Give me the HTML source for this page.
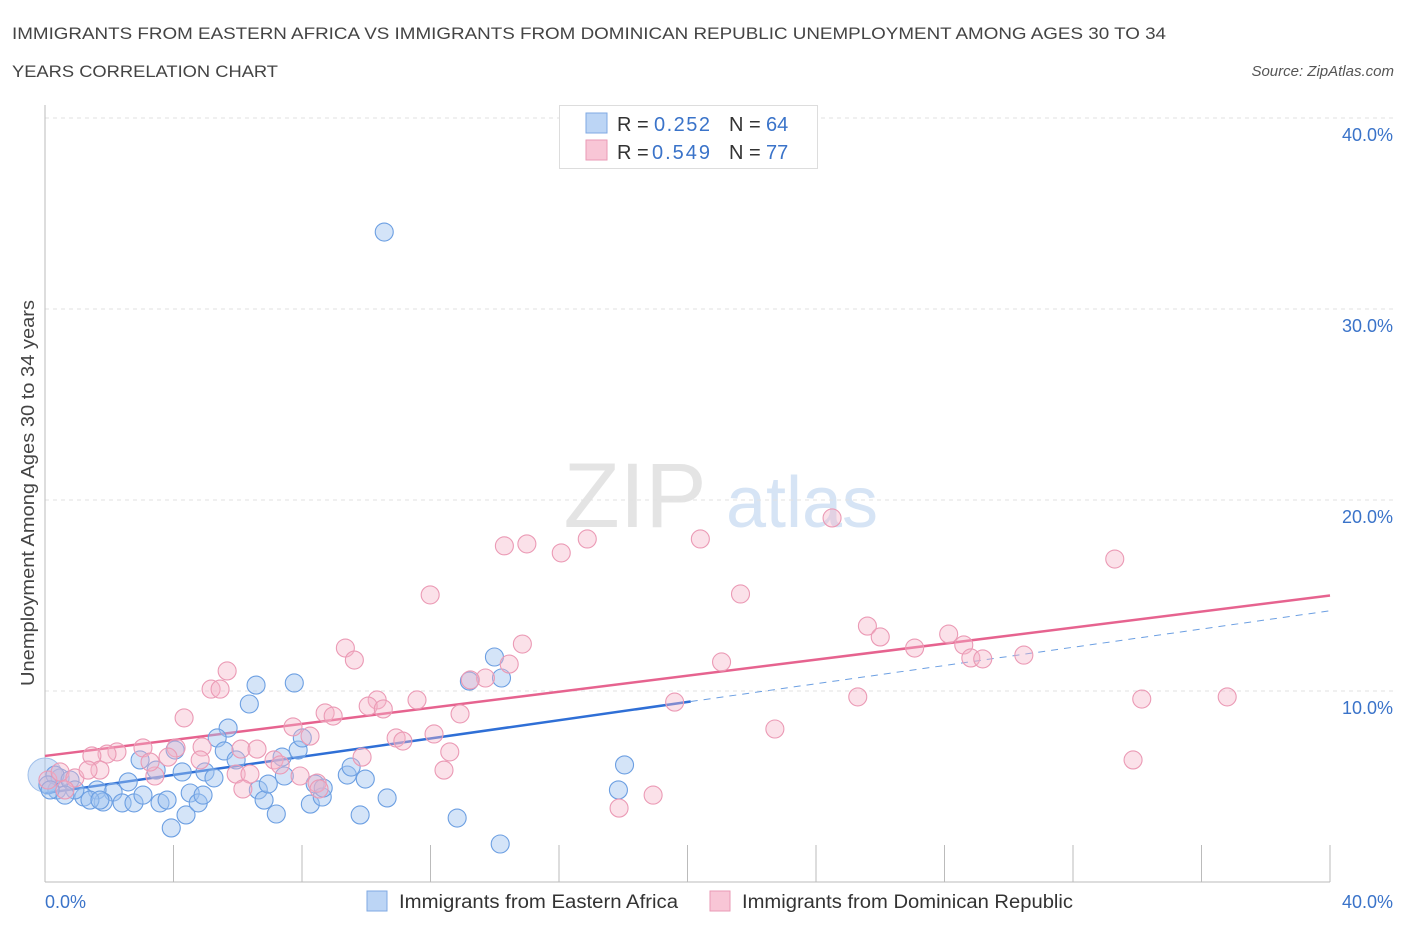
<!DOCTYPE html>
<html><head><meta charset="utf-8"><style>
body{margin:0;background:#fff;font-family:"Liberation Sans",sans-serif;}
svg text{font-family:"Liberation Sans",sans-serif;}
</style></head><body>
<svg id="chart" width="1406" height="930" viewBox="0 0 1406 930">
<text x="12" y="39" font-size="17" fill="#444" textLength="1154" lengthAdjust="spacingAndGlyphs">IMMIGRANTS FROM EASTERN AFRICA VS IMMIGRANTS FROM DOMINICAN REPUBLIC UNEMPLOYMENT AMONG AGES 30 TO 34</text>
<text x="12" y="77" font-size="17" fill="#444" textLength="266" lengthAdjust="spacingAndGlyphs">YEARS CORRELATION CHART</text>
<text x="1394" y="76" font-size="15" fill="#555" font-style="italic" text-anchor="end">Source: ZipAtlas.com</text>
<text transform="translate(34,493) rotate(-90)" font-size="18" fill="#444" text-anchor="middle" textLength="386" lengthAdjust="spacingAndGlyphs">Unemployment Among Ages 30 to 34 years</text>
<g>
<text x="635" y="527" font-size="92" fill="#e4e4e4" font-family="Liberation Serif,serif" text-anchor="middle">ZIP</text>
<text x="802" y="527" font-size="72" fill="#d6e4f5" text-anchor="middle">atlas</text>
</g>
<g id="grid"></g><g id="axes"></g><g id="lines"></g><g id="points"></g>
<g>
<rect x="559.5" y="105.5" width="258" height="63" fill="#fff" stroke="#ddd"/>
<rect x="586" y="113" width="21" height="20" fill="#bcd5f5" stroke="#7fa9e3"/>
<rect x="586" y="140" width="21" height="20" fill="#f8c6d6" stroke="#ea9ab5"/>
<text x="617" y="131" font-size="20" fill="#333">R = </text><text x="654" y="131" font-size="20" fill="#3a73c9" textLength="56">0.252</text>
<text x="729" y="131" font-size="20" fill="#333">N = </text><text x="766" y="131" font-size="20" fill="#3a73c9">64</text>
<text x="617" y="159" font-size="20" fill="#333">R = </text><text x="652" y="159" font-size="20" fill="#3a73c9" textLength="58">0.549</text>
<text x="729" y="159" font-size="20" fill="#333">N = </text><text x="766" y="159" font-size="20" fill="#3a73c9">77</text>
</g>
<g>
<rect x="367" y="891" width="20" height="20" fill="#bcd5f5" stroke="#7fa9e3"/>
<text x="399" y="908" font-size="19" fill="#333" textLength="279" lengthAdjust="spacingAndGlyphs">Immigrants from Eastern Africa</text>
<rect x="710" y="891" width="20" height="20" fill="#f8c6d6" stroke="#ea9ab5"/>
<text x="742" y="908" font-size="19" fill="#333" textLength="331" lengthAdjust="spacingAndGlyphs">Immigrants from Dominican Republic</text>
</g>
</svg>
<script>
const yTicks=[10,20,30,40];
const yTickLabels=["10.0%","20.0%","30.0%","40.0%"];
const xTickLabels=["0.0%","40.0%"];
const blueX=[10.56,6.57,7.76,6.36,5.70,5.36,5.58,4.98,4.27,5.26,4.05,3.46,2.59,2.12,1.62,1.21,1.81,2.40,2.77,3.05,3.58,3.80,3.93,4.39,4.52,4.77,4.92,5.95,6.64,6.82,6.95,7.20,7.45,7.38,7.88,8.01,8.26,8.41,8.63,8.66,9.41,9.53,9.97,9.81,10.65,12.83,13.99,13.21,14.21,14.17,18.04,17.85,0.37,0.47,0.31,0.09,0.78,0.93,1.40,2.96,1.71,0.62,0.16];
const blueY=[34.03,10.31,10.42,9.32,8.06,7.54,6.86,5.76,5.76,5.45,6.91,5.86,5.24,4.71,4.82,4.45,4.19,4.14,4.14,4.55,4.14,4.29,2.83,3.51,4.66,4.14,4.55,6.39,4.82,4.29,5.13,3.56,5.55,6.54,6.91,7.54,4.08,5.13,4.45,4.92,5.60,6.02,5.39,3.51,4.40,3.35,11.78,10.52,10.68,1.99,6.13,4.82,4.82,5.45,5.60,5.08,5.34,4.82,4.29,6.39,4.29,4.55,4.82];
const pinkX=[24.5,20.4,33.3,16.88,15.0,14.3,16.07,11.99,21.65,25.6,26.0,28.13,28.6,27.07,28.82,29.19,30.47,14.86,14.45,21.06,9.35,9.63,13.71,13.24,5.67,5.17,5.45,4.33,25.3,19.6,34.14,36.8,10.34,10.06,10.53,11.58,8.72,8.97,12.92,7.72,8.25,12.11,10.93,11.14,22.72,12.6,9.87,12.42,4.89,4.08,3.05,2.24,1.93,1.46,1.71,3.42,6.1,6.6,7.13,7.32,5.95,6.38,6.16,7.94,8.47,8.53,33.87,17.87,18.93,0.09,0.47,0.93,0.62,1.34,3.27,3.83,4.83];
const pinkY=[19.06,17.96,16.91,17.96,17.7,17.6,17.23,15.03,15.08,13.4,12.83,12.98,12.41,12.25,11.73,11.68,11.88,12.46,11.41,11.52,12.25,11.62,10.68,10.58,11.05,10.1,10.1,8.59,9.69,9.42,9.58,9.69,9.53,9.21,9.06,9.53,8.85,8.69,8.80,8.12,7.64,7.75,7.54,7.38,8.01,6.81,6.54,5.86,7.07,7.02,7.02,6.81,6.70,6.6,5.86,5.55,6.96,6.96,6.39,6.13,5.65,5.65,4.87,5.55,5.18,4.87,6.39,3.87,4.55,5.34,5.76,5.45,4.82,5.86,6.28,6.54,6.39];
const pinkLine=[6.6,15.0];
const blueLine=[4.65,14.2];
const blueSolidEnd=20.1;

const NS="http://www.w3.org/2000/svg";
const X0=45,X1=1330,Y0=882,Y1=118;
const sx=v=>X0+(v/40)*(X1-X0);
const sy=v=>Y0-(v/40)*(Y0-Y1);
function mk(tag,attrs,parent){const e=document.createElementNS(NS,tag);for(const k in attrs)e.setAttribute(k,attrs[k]);document.getElementById(parent).appendChild(e);return e;}

yTicks.forEach((t,i)=>{
  const g=mk('line',{x1:X0,x2:1395,y1:sy(t),y2:sy(t),stroke:'#e2e2e2','stroke-dasharray':'4,4'},'grid');
  
  
  const l=mk('text',{x:1393,y:sy(t)+23,'font-size':18,fill:'#3a73c9','text-anchor':'end'},'axes');
  l.textContent=yTickLabels[i];
  
  
});
const ya=mk('line',{x1:X0,x2:X0,y1:105,y2:Y0,stroke:'#bbb'},'axes');


const xa=mk('line',{x1:X0,x2:X1,y1:Y0,y2:Y0,stroke:'#bbb'},'axes');


for(let i=1;i<=10;i++){
  const t=mk('line',{x1:sx(i*4),x2:sx(i*4),y1:845,y2:Y0,stroke:'#bbb'},'axes');
  
  
}
[[0,'start',45],[1,'end',1393]].forEach(([i,a,x])=>{
  const l=mk('text',{x:x,y:908,'font-size':18,fill:'#3a73c9','text-anchor':a},'axes');
  l.textContent=xTickLabels[i];
  
  
});

const big1=mk('circle',{cx:sx(0),cy:sy(5.6),r:17,fill:'rgba(160,196,240,0.45)',stroke:'#9fbfea'},'points');


blueX.forEach((v,i)=>{
  const c=mk('circle',{cx:sx(v),cy:sy(blueY[i]),r:9,fill:'rgba(160,196,240,0.45)',stroke:'#6c9fe2','stroke-width':1.1},'points');
  
  
});
pinkX.forEach((v,i)=>{
  const c=mk('circle',{cx:sx(v),cy:sy(pinkY[i]),r:9,fill:'rgba(245,180,200,0.4)',stroke:'#eb9ab5','stroke-width':1.1},'points');
  
  
});
const bAt=x=>blueLine[0]+(blueLine[1]-blueLine[0])*x/40;
const bl=mk('line',{x1:sx(0),y1:sy(bAt(0)),x2:sx(blueSolidEnd),y2:sy(bAt(blueSolidEnd)),stroke:'#2f6fd6','stroke-width':2.5},'lines');


const bd=mk('line',{x1:sx(blueSolidEnd),y1:sy(bAt(blueSolidEnd)),x2:sx(40),y2:sy(bAt(40)),stroke:'#6c9fe2','stroke-width':1,'stroke-dasharray':'7,6'},'lines');


const pl=mk('line',{x1:sx(0),y1:sy(pinkLine[0]),x2:sx(40),y2:sy(pinkLine[1]),stroke:'#e6638f','stroke-width':2.5},'lines');


</script>
</body></html>
